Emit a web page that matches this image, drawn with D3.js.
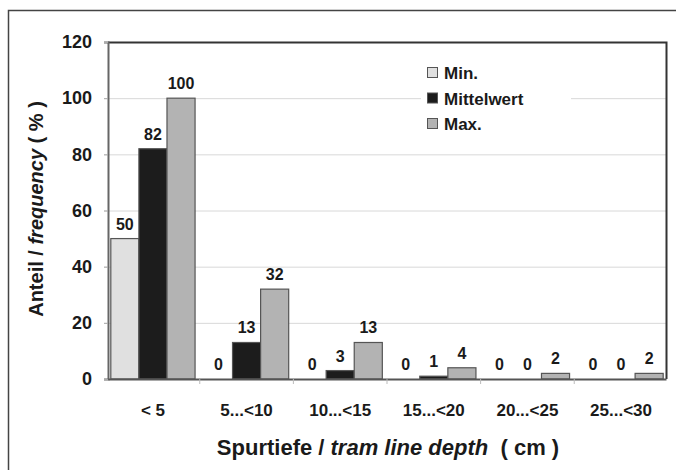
<!DOCTYPE html>
<html>
<head>
<meta charset="utf-8">
<script src="https://cdn.jsdelivr.net/npm/d3@7"></script>
<style>
  body { margin: 0; background: #fff; }
  text { font-family: Arial, "Liberation Sans", sans-serif; font-weight: bold; fill: #1a1a1a; }
</style>
</head>
<body>
<script>
// Data
const categories = ["< 5", "5...<10", "10...<15", "15...<20", "20...<25", "25...<30"];
const seriesNames = ["Min.", "Mittelwert", "Max."];
const minValues = [50, 0, 0, 0, 0, 0];
const meanValues = [82, 13, 3, 1, 0, 0];
const maxValues = [100, 32, 13, 4, 2, 2];
const yTicks = [0, 20, 40, 60, 80, 100, 120];
const colors = ["#e0e0e0", "#1c1c1c", "#b3b3b3"];

const W = 676, H = 470;
const plot = {left: 108, right: 666, top: 42, bottom: 379};

const svg = d3.select("body").append("svg")
    .attr("width", W)
    .attr("height", H);

// outer frame (top and left only visible)
svg.append("path")
    .attr("d", "M8.5," + H + " V10.5 H" + W)
    .attr("fill", "none")
    .attr("stroke", "#444")
    .attr("stroke-width", 1.5);

// scales
const x = d3.scaleBand()
    .domain(categories)
    .range([plot.left, plot.right])
    .paddingInner(0.1)
    .paddingOuter(0.03);

const xSub = d3.scaleBand()
    .domain(seriesNames)
    .range([0, x.bandwidth()]);

const y = d3.scaleLinear()
    .domain([0, 120])
    .range([plot.bottom, plot.top]);

// gridlines
svg.append("g")
    .selectAll("line")
    .data(yTicks.filter(d => d > 0 && d < 120))
    .enter().append("line")
    .attr("x1", plot.left - 4)
    .attr("x2", plot.right)
    .attr("y1", d => y(d) + 0.5)
    .attr("y2", d => y(d) + 0.5)
    .attr("stroke", "#d8d8d8")
    .attr("stroke-width", 1);

// plot border: top and right dark
svg.append("path")
    .attr("d", "M" + plot.left + "," + (plot.top + 0.5) + " H" + (plot.right + 0.5) + " V" + plot.bottom)
    .attr("fill", "none")
    .attr("stroke", "#333")
    .attr("stroke-width", 2);

// bars
const series = [minValues, meanValues, maxValues];
const rows = [];
categories.forEach((c, i) => {
    seriesNames.forEach((s, j) => {
        rows.push({cat: c, name: s, value: series[j][i], color: colors[j]});
    });
});

const bars = svg.append("g")
    .selectAll("g")
    .data(rows)
    .enter().append("g");

bars.append("rect")
    .attr("x", d => x(d.cat) + xSub(d.name))
    .attr("y", d => y(d.value))
    .attr("width", xSub.bandwidth())
    .attr("height", d => Math.max(0, y(0) - y(d.value)))
    .attr("fill", d => d.color)
    .attr("stroke", "#555")
    .attr("stroke-width", 1.2);

bars.append("text")
    .attr("x", d => x(d.cat) + xSub(d.name) + xSub.bandwidth() / 2)
    .attr("y", d => y(d.value) - 9)
    .attr("text-anchor", "middle")
    .style("font-size", "16px")
    .text(d => d.value);

// y axis
const yAxis = d3.axisLeft(y)
    .tickValues(yTicks)
    .tickSize(4)
    .tickPadding(12);

const gy = svg.append("g")
    .attr("transform", "translate(" + plot.left + ",0)")
    .call(yAxis);
gy.select(".domain").attr("stroke", "#666").attr("stroke-width", 2);
gy.selectAll(".tick line").attr("stroke", "#aaa");
gy.selectAll(".tick text")
    .style("font-size", "18px")
    .style("font-family", "Arial, 'Liberation Sans', sans-serif")
    .style("font-weight", "bold")
    .attr("fill", "#1a1a1a");

// x axis
const xAxis = d3.axisBottom(x)
    .tickSize(0)
    .tickPadding(25);

const gx = svg.append("g")
    .attr("transform", "translate(0," + plot.bottom + ")")
    .call(xAxis);
gx.select(".domain").attr("stroke", "#555").attr("stroke-width", 2);
gx.selectAll(".tick text")
    .style("font-size", "17px")
    .style("font-family", "Arial, 'Liberation Sans', sans-serif")
    .style("font-weight", "bold")
    .attr("fill", "#1a1a1a");

// small tick marks between categories
svg.append("g")
    .selectAll("line")
    .data(categories.slice(1))
    .enter().append("line")
    .attr("x1", d => x(d) - x.step() * x.paddingInner() / 2)
    .attr("x2", d => x(d) - x.step() * x.paddingInner() / 2)
    .attr("y1", plot.bottom)
    .attr("y2", plot.bottom + 5)
    .attr("stroke", "#bbb");

// axis titles
const xt = svg.append("text")
    .attr("x", 388)
    .attr("y", 455)
    .attr("text-anchor", "middle")
    .style("font-size", "22px");
xt.append("tspan").text("Spurtiefe / ");
xt.append("tspan").style("font-style", "italic").text("tram line depth");
xt.append("tspan").text("\u00a0 ( cm )");

const yt = svg.append("text")
    .attr("transform", "translate(43,209) rotate(-90)")
    .attr("text-anchor", "middle")
    .style("font-size", "20px");
yt.append("tspan").text("Anteil / ");
yt.append("tspan").style("font-style", "italic").text("frequency");
yt.append("tspan").text(" ( % )");

// legend
const legend = svg.append("g")
    .attr("transform", "translate(427,73)");

legend.append("rect")
    .attr("x", -6)
    .attr("y", -12)
    .attr("width", 150)
    .attr("height", 66)
    .attr("fill", "#fff");

const li = legend.selectAll("g")
    .data(seriesNames)
    .enter().append("g")
    .attr("transform", (d, i) => "translate(0," + i * 25.5 + ")");

li.append("rect")
    .attr("x", 0.5)
    .attr("y", -5.5)
    .attr("width", 10)
    .attr("height", 10)
    .attr("fill", (d, i) => colors[i])
    .attr("stroke", "#555");

li.append("text")
    .attr("x", 17)
    .attr("y", 6)
    .style("font-size", "17px")
    .text(d => d);
</script>
</body>
</html>
